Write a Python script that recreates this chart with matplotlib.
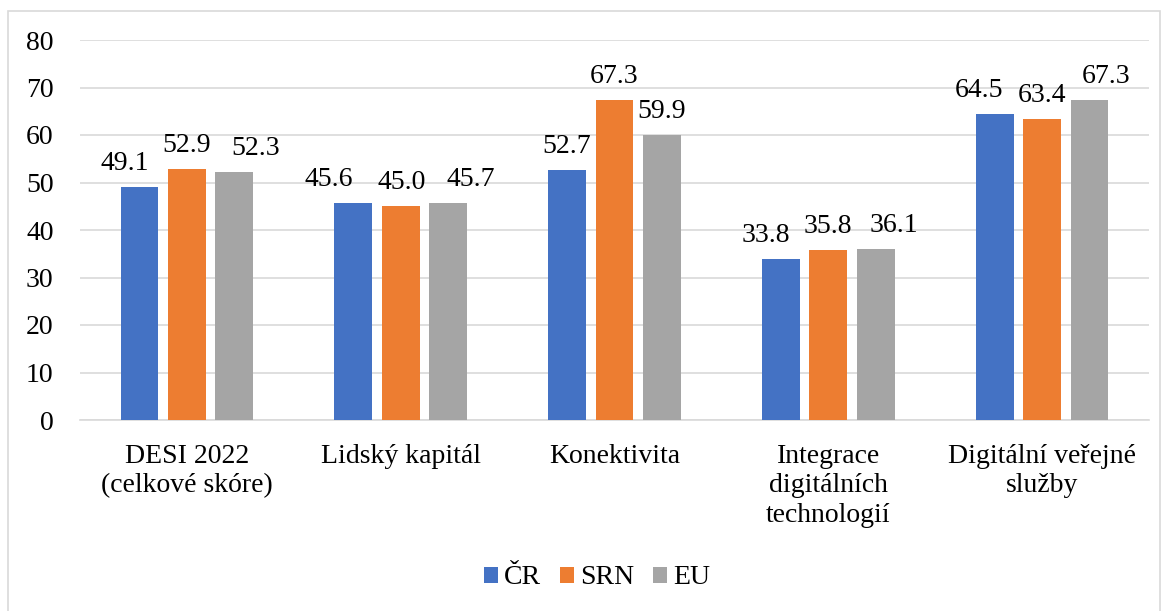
import numpy as np
import matplotlib.pyplot as plt
from matplotlib.patches import Rectangle

plt.rcParams['font.family'] = ['Liberation Serif', 'DejaVu Serif']

# data
categories = ['DESI 2022\n(celkové skóre)', 'Lidský kapitál', 'Konektivita',
              'Integrace\ndigitálních\ntechnologií', 'Digitální veřejné\nslužby']
cr = [49.1, 45.6, 52.7, 33.8, 64.5]
srn = [52.9, 45.0, 67.3, 35.8, 63.4]
eu = [52.3, 45.7, 59.9, 36.1, 67.3]
series_names = ['ČR', 'SRN', 'EU']
colors = ['#4472C4', '#ED7D31', '#A5A5A5']

# horizontal nudge of the value labels (pixels), like in the original chart
label_dx = [[-15, -24, 0, -15, -16],
            [0, 1, 0, 0, 0],
            [21, 23, 0, 18, 16]]

fs = 20

fig = plt.figure(figsize=(11.67, 6.11), dpi=100)
ax = fig.add_axes([80 / 1167, 1 - 420 / 611, 1069 / 1167, 380 / 611])

x = np.arange(len(categories))
w = 0.177
step = 0.222
for i, (vals, name, c) in enumerate(zip([cr, srn, eu], series_names, colors)):
    xs = x + (i - 1) * step
    ax.bar(xs, vals, w, color=c, label=name, zorder=3)
    for xi, v, dx in zip(xs, vals, label_dx[i]):
        ax.annotate(f'{v:.1f}', (xi, v), xytext=(dx, 17), textcoords='offset pixels',
                    ha='center', va='baseline', fontsize=fs)

ax.set_xlim(-0.5, len(categories) - 0.5)
ax.set_ylim(0, 80)
ax.set_yticks(range(0, 81, 10))
ax.set_xticks(x)
ax.set_xticklabels(categories, fontsize=fs, linespacing=1.25)
ax.tick_params(axis='y', labelsize=fs, length=0, pad=19)
ax.tick_params(axis='x', length=0, pad=17)
ax.grid(axis='y', color='#D9D9D9', linewidth=1.2, zorder=0)
for s in ['top', 'right', 'left']:
    ax.spines[s].set_visible(False)
ax.spines['bottom'].set_color('#D9D9D9')
ax.spines['bottom'].set_linewidth(1.2)

leg = fig.legend(loc='center', bbox_to_anchor=(597 / 1167, 1 - 578 / 611), ncol=3,
                 frameon=False, fontsize=fs, handlelength=0.5, handleheight=0.5,
                 handletextpad=0.22, columnspacing=0.68)

# chart border
fig.patches.append(Rectangle((8 / 1167, -0.02), 1152 / 1167, 1 - 11 / 611 + 0.02,
                             transform=fig.transFigure, fill=False,
                             edgecolor='#D9D9D9', linewidth=1.2))

fig.savefig('out.png', dpi=100)
